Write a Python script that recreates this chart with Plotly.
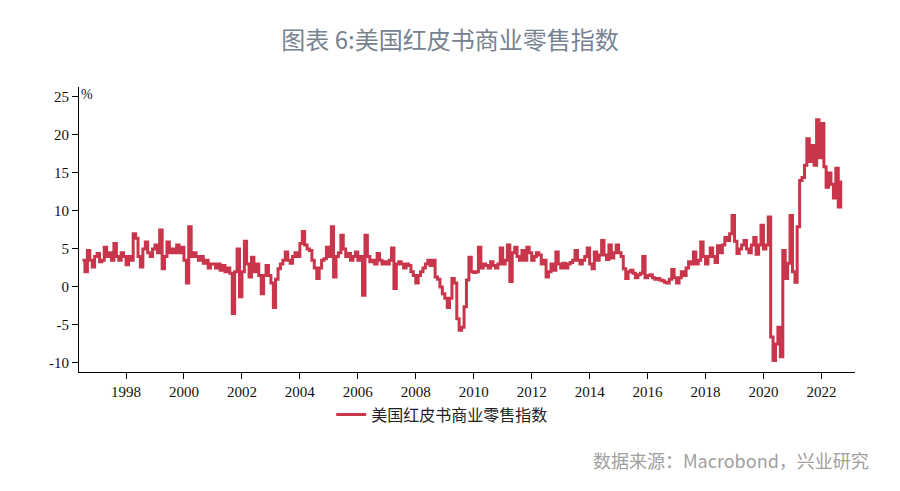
import plotly.graph_objects as go

# Monthly readings (%), US Redbook retail sales index, YoY
v1996 = [3.5, 2.0, 4.8, 3.5, 2.6, 4.0]  # Jul-Dec
v1997 = [4.4, 3.3, 3.5, 5.2, 4.0, 4.5, 3.5, 5.7, 4.0, 3.5, 4.5, 4.0]
v1998 = [2.9, 4.0, 3.5, 7.0, 6.4, 4.0, 2.6, 5.0, 5.9, 4.5, 4.0, 5.0]
v1999 = [5.5, 4.5, 7.5, 2.4, 4.0, 5.9, 4.5, 5.0, 4.5, 5.5, 4.5, 5.2]
v2000 = [3.5, 0.5, 7.9, 4.0, 4.5, 4.0, 3.5, 4.0, 3.1, 3.5, 2.5, 3.0]
v2001 = [3.0, 2.5, 3.0, 2.2, 2.8, 2.0, 2.5, 1.8, -3.5, 2.0, 5.0, -1.3]
v2002 = [2.0, 6.0, 3.0, 1.3, 3.9, 2.0, 3.0, 1.5, -0.9, 1.5, 2.8, 1.5]
v2003 = [0.5, -2.7, 1.0, 2.4, 3.0, 3.5, 4.6, 3.5, 3.1, 4.0, 4.5, 4.0]
v2004 = [5.7, 7.3, 5.5, 5.0, 4.8, 3.5, 2.5, 1.1, 2.5, 3.5, 3.7, 5.2]
v2005 = [4.0, 7.9, 1.3, 4.0, 4.5, 6.8, 5.0, 4.0, 4.4, 3.5, 4.0, 4.6]
v2006 = [3.5, 4.0, -1.1, 6.8, 4.0, 3.3, 3.5, 3.0, 4.4, 3.5, 3.0, 3.3]
v2007 = [3.0, 3.5, 5.1, -0.2, 3.0, 3.3, 3.0, 2.5, 3.0, 2.8, 2.0, 1.5]
v2008 = [0.5, 1.5, 2.0, 2.5, 3.0, 3.5, 2.8, 3.5, 1.3, 1.0, 0.0, -0.9]
v2009 = [-1.5, -2.7, -1.5, 1.1, 0.5, -4.2, -5.7, -5.3, -2.6, 0.9, 3.9, 2.0]
v2010 = [1.9, 2.0, 5.2, 2.5, 3.0, 2.8, 2.5, 3.3, 2.8, 2.5, 3.0, 5.1]
v2011 = [3.0, 3.5, 5.5, 0.7, 4.5, 5.2, 4.0, 3.5, 4.8, 3.5, 5.2, 4.5]
v2012 = [3.5, 4.0, 4.5, 4.2, 3.0, 3.5, 1.3, 2.0, 3.0, 2.2, 4.6, 3.0]
v2013 = [2.5, 3.1, 2.5, 3.0, 3.2, 3.5, 4.8, 3.5, 3.0, 3.5, 4.0, 5.1]
v2014 = [3.0, 2.4, 4.6, 3.5, 4.2, 6.1, 4.2, 3.6, 5.5, 3.8, 4.5, 5.5]
v2015 = [4.5, 4.0, 2.4, 1.1, 2.0, 2.2, 1.8, 1.2, 1.6, 1.8, 4.0, 1.2]
v2016 = [1.5, 1.6, 1.2, 1.0, 1.1, 0.9, 0.8, 0.6, 0.5, 1.0, 2.3, 1.2]
v2017 = [0.5, 1.2, 2.0, 1.5, 2.5, 3.3, 3.0, 4.6, 3.0, 3.5, 5.9, 4.0]
v2018 = [3.0, 4.0, 5.1, 4.0, 3.2, 5.4, 4.5, 5.5, 6.5, 6.1, 7.0, 9.4]
v2019 = [6.0, 4.4, 5.0, 5.5, 6.1, 5.0, 4.5, 5.5, 6.5, 4.3, 5.5, 8.1]
v2020 = [5.0, 5.5, 9.2, -6.6, -9.7, -7.5, -5.3, -9.2, 4.8, 1.1, 3.1, 9.4]
v2021 = [2.0, 0.6, 7.9, 14.0, 14.4, 16.0, 19.5, 16.5, 18.6, 16.0, 22.0, 17.0]
v2022 = [21.5, 15.8, 13.1, 15.0, 13.5, 11.7, 15.6, 10.5, 14.0]  # Jan-Sep

series_name = "美国红皮书商业零售指数"
title_text = "图表 6:美国红皮书商业零售指数"
source_text = "数据来源：Macrobond，兴业研究"
y_ticks = [-10, -5, 0, 5, 10, 15, 20, 25]
y_tick_labels = ["-10", "-5", "0", "5", "10", "15", "20", "25"]
x_tick_years = list(range(1998, 2023, 2))

yearly = {
    1996: v1996, 1997: v1997, 1998: v1998, 1999: v1999, 2000: v2000,
    2001: v2001, 2002: v2002, 2003: v2003, 2004: v2004, 2005: v2005,
    2006: v2006, 2007: v2007, 2008: v2008, 2009: v2009, 2010: v2010,
    2011: v2011, 2012: v2012, 2013: v2013, 2014: v2014, 2015: v2015,
    2016: v2016, 2017: v2017, 2018: v2018, 2019: v2019, 2020: v2020,
    2021: v2021, 2022: v2022,
}

dates, values = [], []
for yr, vals in yearly.items():
    start = 7 if yr == 1996 else 1
    for i, v in enumerate(vals):
        dates.append(f"{yr}-{start + i:02d}-01")
        values.append(v)

fig = go.Figure()
fig.add_trace(go.Scatter(
    x=dates, y=values, mode="lines", name=series_name,
    line=dict(color="#c9364b", width=3, shape="hv"),
))

serif = "Liberation Serif, Times New Roman, serif"

fig.update_layout(
    width=900, height=491,
    paper_bgcolor="white", plot_bgcolor="white",
    margin=dict(l=79, r=45, t=87, b=119),
    title=dict(text=title_text, x=0.5, xanchor="center", y=0.918, yanchor="middle",
               font=dict(family="Noto Sans CJK SC", size=24, color="#76828f")),
    showlegend=True,
    legend=dict(orientation="h", x=0.325, y=-0.09, xanchor="left", yanchor="top",
                font=dict(family="Noto Sans CJK SC", size=16, color="#222"),
                itemwidth=30, bgcolor="rgba(0,0,0,0)"),
    xaxis=dict(
        type="date", range=["1996-05-18", "2023-02-28"],
        tickvals=[f"{y}-01-01" for y in x_tick_years],
        ticktext=[str(y) for y in x_tick_years],
        showgrid=False, zeroline=False, automargin=False,
        showline=True, linecolor="#000", linewidth=1,
        ticks="outside", ticklen=6, tickcolor="#000",
        tickfont=dict(family=serif, size=15, color="#111"),
    ),
    yaxis=dict(
        range=[-11.2, 26.3], tickvals=y_ticks, ticktext=y_tick_labels,
        showgrid=False, zeroline=False, automargin=False,
        showline=True, linecolor="#000", linewidth=1,
        ticks="outside", ticklen=6, tickcolor="#000",
        tickfont=dict(family=serif, size=15, color="#111"),
    ),
    annotations=[
        dict(text="%", xref="paper", yref="paper", x=0.0, y=0.975,
             xanchor="left", yanchor="middle", showarrow=False,
             font=dict(family=serif, size=14, color="#111")),
        dict(text=source_text, xref="paper", yref="paper", x=1.02, y=-0.31,
             xanchor="right", yanchor="middle", showarrow=False,
             font=dict(family="Noto Sans CJK SC", size=18, color="#a0a0a0")),
    ],
)

fig.write_html("out.html", config={"displayModeBar": False},
               post_script="document.body.style.margin='0';")
